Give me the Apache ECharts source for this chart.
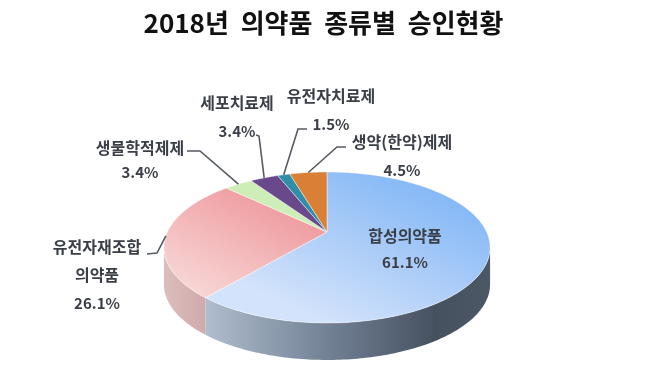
<!DOCTYPE html>
<html><head><meta charset="utf-8">
<script src="https://cdn.jsdelivr.net/npm/echarts@6/dist/echarts.min.js"></script>
<style>html,body{margin:0;padding:0;background:#fff}#c{width:647px;height:366px;filter:blur(.5px)}</style>
</head><body><div id="c"></div>
<script>
const titleText = '2018년  의약품  종류별  승인현황';
const names = ['합성의약품', '유전자재조합\n의약품', '생물학적제제', '세포치료제', '유전자치료제', '생약(한약)제제'];
const values = [61.1, 26.1, 3.4, 3.4, 1.5, 4.5];

// Styling and layout (kept apart from the data)
const topFills = [
  {type:'linear',global:true,x:400,y:172,x2:330,y2:325,colorStops:[{offset:0,color:'#84b8f6'},{offset:.55,color:'#b0cff8'},{offset:1,color:'#d3e3fb'}]},
  {type:'linear',global:true,x:270,y:190,x2:212,y2:300,colorStops:[{offset:0,color:'#ee989c'},{offset:1,color:'#f8d5d5'}]},
  '#cdeeb6', '#69488c', '#2f8fa9', '#d97f36'
];
const wallFills = [
  {type:'linear',global:true,x:208,y:0,x2:492,y2:0,colorStops:[{offset:0,color:'#aebccd'},{offset:.45,color:'#6f7d92'},{offset:.8,color:'#465160'},{offset:1,color:'#4c5866'}]},
  {type:'linear',global:true,x:166,y:0,x2:208,y2:0,colorStops:[{offset:0,color:'#dcbcbc'},{offset:1,color:'#cfa9a9'}]},
  null,null,null,null
];
const labelPos = [[405,249],[97,275],[140,160],[237,117],[331,110],[402,156]];
const labelLH = [27,28,25,28,28,28];
const elbows = [null,[[157,253],[147,254]],[[200,151],[187,151]],[[259,136],[256,135]],[[298,129],[307,129]],[[337,147],[346,147]]];

const P = {ax:327, ay:232, a:159.6, b:72.3, k:-0.205, depth:37};
function proj(deg, drop){
  const t = deg*Math.PI/180, X = Math.sin(t), Y = -Math.cos(t), d = 1 + P.k*Y;
  return [P.ax + P.a*X/d, P.ay + P.b*Y/d + (drop||0)];
}
function arc(a0, a1, drop){
  const n = Math.max(2, Math.ceil(Math.abs(a1-a0))), out = [];
  for(let i=0;i<=n;i++) out.push(proj(a0+(a1-a0)*i/n, drop));
  return out;
}
const total = values.reduce((s,v)=>s+v,0);
const wallA0 = Math.acos(P.k)*180/Math.PI, wallA1 = 360-wallA0;

function renderItem(params, api){
  const i = params.dataIndex, v = api.value(0);
  let before = 0; for(let j=0;j<i;j++) before += values[j];
  const a0 = before/total*360, a1 = (before+v)/total*360, mid = (a0+a1)/2;
  const kids = [];
  const w0 = Math.max(a0,wallA0), w1 = Math.min(a1,wallA1);
  if(wallFills[i] && w1>w0){
    kids.push({type:'polygon',shape:{points:arc(w0,w1,0).concat(arc(w1,w0,P.depth))},style:{fill:wallFills[i],stroke:null}});
  }
  kids.push({type:'polygon',shape:{points:[[P.ax,P.ay]].concat(arc(a0,a1,0))},
    style:{fill:topFills[i],stroke:'rgba(255,255,255,.55)',lineWidth:.8}});
  if(elbows[i]){
    kids.push({type:'polyline',shape:{points:[proj(mid,0)].concat(elbows[i])},style:{fill:null,stroke:'#555b63',lineWidth:1.6}});
  }
  const nameLines = names[i].split('\n').map(s=>'{n|'+s+'}').join('\n');
  const lh = labelLH[i];
  kids.push({type:'text',style:{text:nameLines+'\n{v|'+v.toFixed(1)+'%}',x:labelPos[i][0],y:labelPos[i][1],
    textAlign:'center',textVerticalAlign:'middle',
    rich:{
      n:{font:'700 16px "Noto Sans CJK KR"',fill:'#3a3f47',lineHeight:lh},
      v:{font:'700 15px "Noto Sans CJK KR"',fill:'#3a3f47',lineHeight:lh}
    }}});
  return {type:'group',children:kids};
}

const chart = echarts.init(document.getElementById('c'),null,{renderer:'canvas'});
chart.setOption({
  animation:false, backgroundColor:'#fff',
  title:{text:titleText,left:'center',top:5,textStyle:{fontFamily:'Noto Sans CJK KR',fontWeight:'bold',fontSize:26,color:'#111'}},
  series:[{type:'custom',coordinateSystem:'none',renderItem,data:values.map(v=>[v])}]
});
</script></body></html>
